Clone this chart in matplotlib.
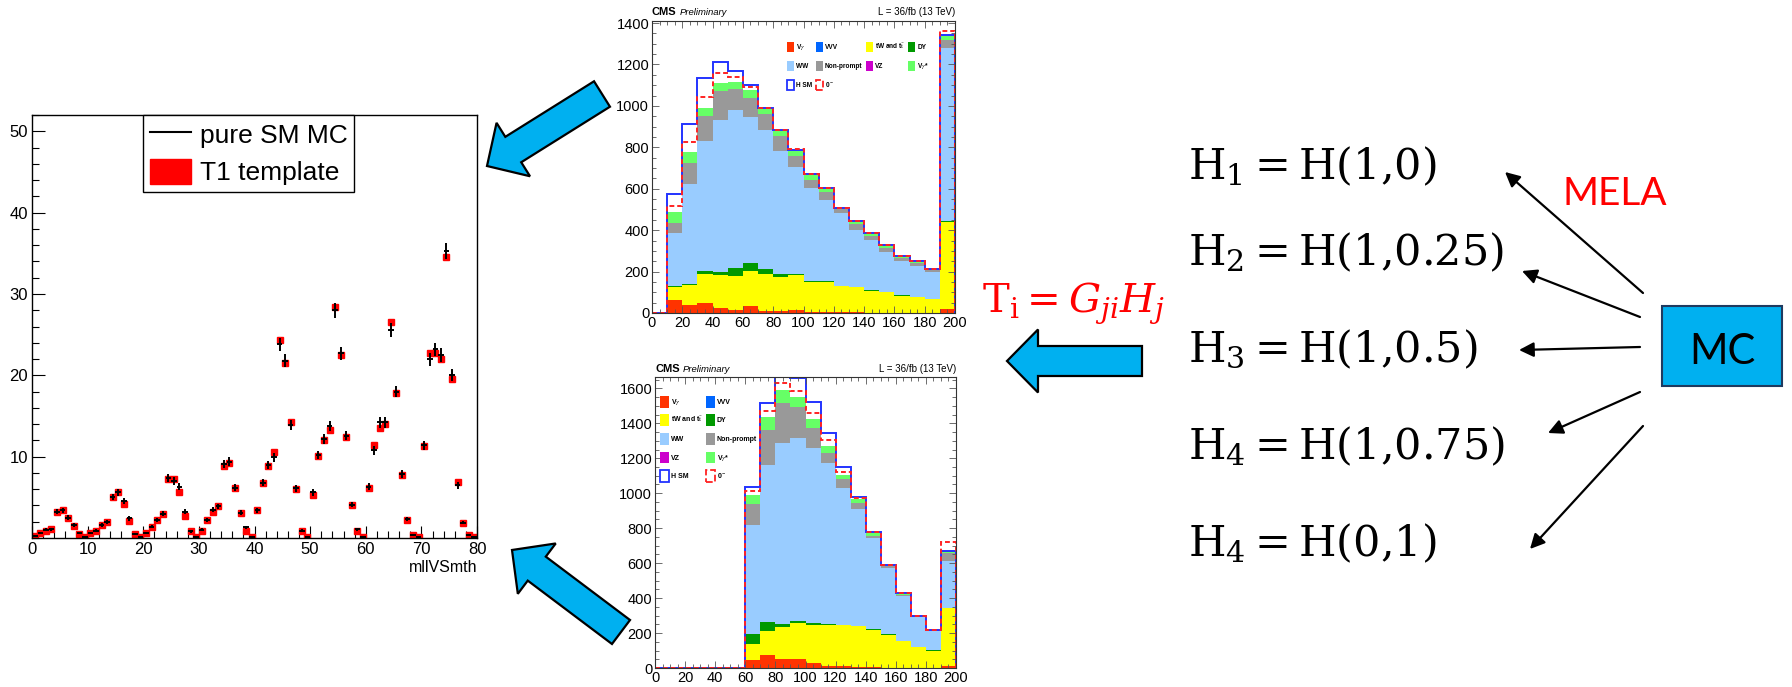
import numpy as np
import matplotlib.pyplot as plt
from matplotlib.patches import Patch, Rectangle, FancyArrow
from matplotlib.lines import Line2D
from matplotlib.ticker import MultipleLocator

plt.rcParams['font.family'] = ['Liberation Sans', 'DejaVu Sans']
plt.rcParams['mathtext.fontset'] = 'stix'

# ---- left panel: mllVSmth, 80 bins of width 1
sm_mc = [0.3, 0.6, 1.0, 1.1, 3.2, 3.4, 2.5, 1.6, 0.6, 0.1,
         0.6, 0.9, 1.6, 2.0, 5.0, 5.6, 4.6, 2.4, 0.5, 0.1,
         0.6, 1.4, 2.2, 3.0, 7.4, 7.0, 6.3, 3.2, 0.8, 0.1,
         1.0, 2.2, 3.5, 3.9, 9.1, 9.4, 6.2, 3.1, 1.3, 0.1,
         3.4, 6.8, 9.0, 9.9, 23.8, 21.8, 13.9, 6.1, 0.9, 0.1,
         5.6, 10.2, 12.2, 13.8, 28.0, 22.7, 12.6, 4.1, 1.1, 0.1,
         6.3, 10.8, 14.2, 14.2, 25.6, 18.0, 7.9, 2.3, 0.4, 0.1,
         11.4, 22.0, 23.2, 22.5, 35.3, 20.0, 6.5, 1.9, 0.4, 0.1]
t1_tmpl = [0.3, 0.6, 0.9, 1.1, 3.2, 3.4, 2.5, 1.5, 0.5, 0.1,
           0.6, 0.9, 1.6, 2.0, 5.0, 5.7, 4.2, 2.1, 0.5, 0.1,
           0.6, 1.4, 2.2, 2.9, 7.2, 7.3, 5.6, 2.7, 0.8, 0.1,
           0.9, 2.2, 3.2, 3.9, 8.8, 9.2, 6.2, 3.1, 0.9, 0.1,
           3.4, 6.7, 8.9, 10.6, 24.4, 21.5, 14.3, 6.0, 0.9, 0.1,
           5.3, 10.1, 12.1, 13.3, 28.4, 22.5, 12.4, 4.1, 0.8, 0.1,
           6.2, 11.4, 13.5, 14.0, 26.6, 17.8, 7.8, 2.2, 0.4, 0.1,
           11.3, 22.7, 22.8, 22.0, 34.6, 19.6, 6.9, 1.9, 0.4, 0.1]

# ---- middle panels: stacked backgrounds, 20 bins of width 10
edges = np.arange(0, 210, 10)
bkg_labels = ['V$\\gamma$', 'VVV', 'tW and t$\\bar{\\rm t}$', 'DY', 'WW',
              'Non-prompt', 'VZ', 'V$\\gamma$*']
bkg_colors = ['#ff3300', '#0066ff', '#ffff00', '#009900', '#99ccff',
              '#999999', '#cc00cc', '#66ff66']

top_vg = [0, 64, 40, 48, 24, 16, 32, 8, 8, 16, 5, 5, 3, 3, 2, 2, 2, 1, 1, 19]
top_vvv = [0] * 20
top_ttw = [0, 61, 96, 141, 160, 163, 173, 181, 168, 166, 147, 147, 125, 122, 105, 97, 81, 76, 66, 421]
top_dy = [0, 3, 2, 16, 16, 37, 38, 22, 13, 4, 3, 2, 2, 2, 2, 2, 2, 2, 2, 2]
top_ww = [0, 256, 486, 627, 731, 763, 704, 672, 595, 521, 450, 390, 353, 273, 243, 195, 168, 150, 128, 838]
top_np = [0, 51, 99, 120, 141, 101, 90, 80, 72, 53, 38, 40, 21, 32, 19, 16, 11, 11, 11, 40]
top_vz = [0] * 20
top_vgs = [0, 53, 53, 37, 40, 35, 38, 21, 24, 24, 21, 16, 3, 8, 10, 11, 8, 8, 3, 19]
top_hsm = [0, 88, 139, 144, 101, 53, 26, 5, 3, 5, 8, 5, 2, 5, 3, 5, 3, 3, 3, 5]
top_0m = [0, 27, 48, 56, 48, 24, 16, 5, 5, 6, 8, 5, 2, 5, 3, 5, 3, 3, 3, 24]

bot_vg = [0] * 6 + [44, 76, 51, 51, 29, 13, 13, 6, 3, 2, 2, 2, 2, 13]
bot_vvv = [0] * 20
bot_ttw = [0] * 6 + [95, 134, 183, 206, 219, 235, 231, 232, 216, 188, 150, 118, 97, 330]
bot_dy = [0] * 6 + [57, 51, 19, 13, 9, 4, 4, 4, 4, 5, 2, 2, 2, 2]
bot_ww = [0] * 6 + [623, 901, 1037, 1044, 1000, 920, 781, 667, 520, 377, 256, 168, 112, 265]
bot_np = [0] * 6 + [120, 200, 224, 181, 115, 57, 51, 34, 13, 9, 9, 5, 2, 47]
bot_vz = [0] * 20
bot_vgs = [0] * 6 + [52, 76, 77, 54, 51, 42, 25, 23, 15, 8, 3, 2, 2, 10]
bot_hsm = [0] * 6 + [43, 76, 110, 108, 101, 76, 44, 11, 8, 2, 7, 2, 2, 5]
bot_0m = [0] * 6 + [24, 33, 38, 38, 38, 34, 19, 6, 8, 2, 7, 2, 2, 53]

# ---- right side text
eq_labels = [r'$\mathrm{H}_1 = \mathrm{H}(1{,}0)$',
             r'$\mathrm{H}_2 = \mathrm{H}(1{,}0.25)$',
             r'$\mathrm{H}_3 = \mathrm{H}(1{,}0.5)$',
             r'$\mathrm{H}_4 = \mathrm{H}(1{,}0.75)$',
             r'$\mathrm{H}_4 = \mathrm{H}(0{,}1)$']

W, H = 1792, 687
fig = plt.figure(figsize=(W / 100, H / 100), dpi=100)


def fr(x0, y0, x1, y1):
    # pixel box (top-left origin) -> figure fraction rect
    return [x0 / W, 1 - y1 / H, (x1 - x0) / W, (y1 - y0) / H]


# ================= left panel
ax = fig.add_axes(fr(32, 115, 477, 538))
xc = np.arange(80) + 0.5
sm = np.array(sm_mc)
ax.plot(xc, t1_tmpl, 's', color='red', ms=4.6, mec='red', zorder=2)
ax.errorbar(xc, sm, xerr=0.5, yerr=0.17 * np.sqrt(sm), fmt='none',
            ecolor='black', elinewidth=1.4, capsize=0, zorder=3)
ax.set_xlim(0, 80)
ax.set_ylim(0, 52)
ax.set_yticks([10, 20, 30, 40, 50])
ax.xaxis.set_major_locator(MultipleLocator(10))
ax.xaxis.set_minor_locator(MultipleLocator(2))
ax.yaxis.set_minor_locator(MultipleLocator(2))
ax.tick_params(which='both', direction='in', labelsize=12, width=0.8, pad=3)
ax.tick_params(which='major', length=9)
ax.tick_params(which='minor', length=5)
for s in ax.spines.values():
    s.set_linewidth(1.0)
ax.set_xlabel('mllVSmth', fontsize=11.5, loc='right', labelpad=2)
hl = [Line2D([], [], color='black', lw=1.5),
      Patch(facecolor='red', edgecolor='red')]
leg = ax.legend(hl, ['pure SM MC', 'T1 template'], loc='upper left',
                bbox_to_anchor=((143 - 32) / 445, 1.0), borderaxespad=0,
                fontsize=19, handlelength=1.55, handleheight=1.1,
                handletextpad=0.35, labelspacing=0.4, borderpad=0.25,
                fancybox=False, edgecolor='black', framealpha=1)
leg.get_frame().set_linewidth(1.0)


# ================= middle panels
def stack_panel(rect, comps, hsm, zm, ytop, ymajor, order, ncol, anchor, fs, hlen, hh, lsp, csp):
    a = fig.add_axes(rect)
    base = np.zeros(20)
    for vals, col in zip(comps, bkg_colors):
        v = np.array(vals, dtype=float)
        a.stairs(base + v, edges, baseline=base.copy(), fill=True, color=col, lw=0)
        base = base + v
    a.stairs(base + np.array(hsm), edges, baseline=0, color='#2233ff', lw=1.4)
    a.stairs(base + np.array(zm), edges, baseline=0, color='#ff2222', lw=1.4,
             linestyle=(0, (2.5, 1.5)))
    a.set_xlim(0, 200)
    a.set_ylim(0, ytop)
    a.xaxis.set_major_locator(MultipleLocator(20))
    a.xaxis.set_minor_locator(MultipleLocator(5))
    a.yaxis.set_major_locator(MultipleLocator(ymajor))
    a.yaxis.set_minor_locator(MultipleLocator(ymajor / 4))
    a.tick_params(which='both', direction='in', top=True, right=True,
                  labelsize=10.5, width=0.6, color='#555555', pad=2)
    a.tick_params(which='major', length=5)
    a.tick_params(which='minor', length=2.8)
    for s in a.spines.values():
        s.set_linewidth(0.8)
        s.set_color('#333333')
    a.text(0.0, 1.012, 'CMS', transform=a.transAxes, fontsize=8,
           fontweight='bold', va='bottom', ha='left')
    a.text(0.092, 1.012, 'Preliminary', transform=a.transAxes, fontsize=6.8,
           style='italic', va='bottom', ha='left')
    a.text(1.0, 1.012, 'L = 36/fb (13 TeV)', transform=a.transAxes,
           fontsize=7, va='bottom', ha='right')
    handles = [Patch(facecolor=c, edgecolor='none') for c in bkg_colors]
    handles += [Patch(facecolor='white', edgecolor='#2233ff', lw=1.3),
                Patch(facecolor='white', edgecolor='#ff2222', lw=1.3, ls='--')]
    labels = bkg_labels + ['H SM', '0$^-$']
    a.legend([handles[i] for i in order], [labels[i] for i in order],
             ncol=ncol, loc='upper left', bbox_to_anchor=anchor,
             borderaxespad=0, borderpad=0, frameon=False,
             prop={'size': fs, 'weight': 'bold'}, handlelength=hlen,
             handleheight=hh, handletextpad=0.3, labelspacing=lsp,
             columnspacing=csp)
    return a


top_comps = [top_vg, top_vvv, top_ttw, top_dy, top_ww, top_np, top_vz, top_vgs]
bot_comps = [bot_vg, bot_vvv, bot_ttw, bot_dy, bot_ww, bot_np, bot_vz, bot_vgs]

stack_panel(fr(652, 21, 955, 313), top_comps, top_hsm, top_0m, 1410, 200,
            [0, 4, 8, 1, 5, 9, 2, 6, 3, 7], 4, (0.446, 0.93),
            4.7, 1.1, 2.0, 1.4, 0.5)
stack_panel(fr(655, 377, 956, 668), bot_comps, bot_hsm, bot_0m, 1665, 200,
            [0, 2, 4, 6, 8, 1, 3, 5, 7, 9], 2, (0.017, 0.935),
            5.0, 1.3, 2.2, 1.0, 0.3)

# ================= overlay: arrows, formulas, MC box
ov = fig.add_axes([0, 0, 1, 1])
ov.set_xlim(0, W)
ov.set_ylim(H, 0)
ov.axis('off')
ov.patch.set_alpha(0)

blue = '#00b0f0'
for (tx, ty), (hx, hy) in [((602, 94), (487, 166)),
                           ((1142, 361), (1007, 361)),
                           ((621, 632), (512, 550))]:
    ov.add_patch(FancyArrow(tx, ty, hx - tx, hy - ty, width=30, head_width=63,
                            head_length=31, length_includes_head=True,
                            fc=blue, ec='black', lw=1.6, joinstyle='miter'))

eq_base = [179, 265, 362, 459, 556]
for lab, yb in zip(eq_labels, eq_base):
    ov.text(1188, yb, lab, fontsize=31, va='baseline', ha='left',
            math_fontfamily='dejavuserif')

ov.text(982, 312, r'$\mathrm{T_i} = G_{ji}H_j$', fontsize=29, color='red',
        va='baseline', ha='left', math_fontfamily='dejavuserif')
ov.text(1562, 205, 'MELA', fontsize=28, color='red', family='Lato',
        va='baseline', ha='left')

ov.add_patch(Rectangle((1662, 306), 120, 80, fc=blue, ec='#1f3a5f', lw=1.5))
ov.text(1722, 364, 'MC', fontsize=30, family='Lato', va='baseline', ha='center')

for (x0, y0), (x1, y1) in [((1643, 293), (1505, 172)),
                           ((1640, 317), (1522, 271)),
                           ((1640, 347), (1519, 350)),
                           ((1640, 392), (1548, 433)),
                           ((1643, 426), (1530, 549))]:
    ov.annotate('', xy=(x1, y1), xytext=(x0, y0),
                arrowprops=dict(arrowstyle='-|>', color='black', lw=1.6,
                                mutation_scale=22, shrinkA=0, shrinkB=0))

fig.savefig('out.png', dpi=100)
